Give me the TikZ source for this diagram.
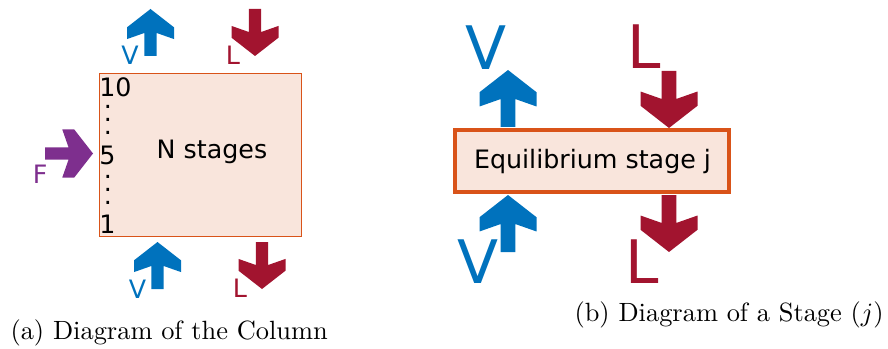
\documentclass[tikz,border=0pt]{standalone}
\usepackage{fontspec}
\newfontfamily\dejavu{DejaVu Sans}
\usetikzlibrary{positioning}

\definecolor{vblue}{HTML}{0072BD}
\definecolor{lred}{HTML}{A2142F}
\definecolor{fpurple}{HTML}{7E2F8E}
\definecolor{borange}{HTML}{D95319}
\definecolor{bfill}{HTML}{F9E5DC}

\tikzset{
  pics/fatarrow/.style={code={
    \fill[#1] (0,0) -- (0.5,0.39) -- (0.5,0.64) -- (0.13,0.51) -- (0.13,1)
      -- (-0.13,1) -- (-0.13,0.51) -- (-0.5,0.64) -- (-0.5,0.39) -- cycle;
  }},
}

\begin{document}
\begin{tikzpicture}[
      x=0.75pt, y=-0.75pt,
      lbl/.style    = {inner sep=0pt, font=\dejavu\fontsize{19}{22}\selectfont},
      biglbl/.style = {inner sep=0pt, font=\dejavu\fontsize{45}{50}\selectfont},
      capt/.style   = {inner sep=0pt, font=\fontsize{10}{12}\selectfont,
                       scale=1.98, transform shape},
      stagebox/.style = {rectangle, draw=borange, fill=bfill, inner sep=0pt},
    ]
    \useasboundingbox (0,0) rectangle (888,349);

    % (a) column
    \node[stagebox, line width=0.75pt, minimum width=151.5pt, minimum height=122.25pt]
          (column) at (200.5,155) {};
    \node[lbl, anchor=base] (nstages) at (212,158) {N stages};
    \node[lbl, anchor=base west] (top)  at (99,97)  {10};
    \node[lbl, anchor=base west] (feed) at (99,165) {5};
    \node[lbl, anchor=base west] (bot)  at (99,233) {1};
    \foreach \y [count=\i] in {109,122,135,178,191,204}
      \node[lbl, anchor=base] (dot\i) at (108,\y) {.};

    \pic[scale=47] at (150.5,9) {fatarrow=vblue};
    \pic[scale=47, rotate=180] at (255,56) {fatarrow=lred};
    \pic[scale=48, rotate=-90] at (93,153.5) {fatarrow=fpurple};
    \pic[scale=47] at (157.5,242) {fatarrow=vblue};
    \pic[scale=47, rotate=180] at (262,289) {fatarrow=lred};

    \node[lbl, anchor=base, text=vblue] (vtopa) at (130,65) {V};
    \node[lbl, anchor=base west, text=lred] (ltopa) at (225.5,65) {L};
    \node[lbl, anchor=base west, text=fpurple] (fa) at (32.5,183) {F};
    \node[lbl, anchor=base, text=vblue] (vbota) at (137.5,298) {V};
    \node[lbl, anchor=base west, text=lred] (lbota) at (232.5,297) {L};

    % (b) single stage
    \node[stagebox, line width=3pt, minimum width=205.5pt, minimum height=46.5pt]
          (stage) at (592,161) {};
    \node[lbl, anchor=base] (eqtext) at (592.5,168) {Equilibrium stage j};

    \pic[scale=57] at (508,70) {fatarrow=vblue};
    \pic[scale=57, rotate=180] at (669,128) {fatarrow=lred};
    \pic[scale=57] at (508,195) {fatarrow=vblue};
    \pic[scale=57, rotate=180] at (669,252) {fatarrow=lred};

    \node[biglbl, anchor=base, text=vblue] (vtopb) at (486,70) {V};
    \node[biglbl, anchor=base west, text=lred] (ltopb) at (627,69) {L};
    \node[biglbl, anchor=base, text=vblue] (vbotb) at (478,283) {V};
    \node[biglbl, anchor=base west, text=lred] (lbotb) at (625,283) {L};

    % captions
    \node[capt, anchor=base west] (capa) at (10,339) {(a) Diagram of the Column};
    \node[capt, anchor=base west] (capb) at (574,321) {(b) Diagram of a Stage ($j$)};
  \end{tikzpicture}
\end{document}
